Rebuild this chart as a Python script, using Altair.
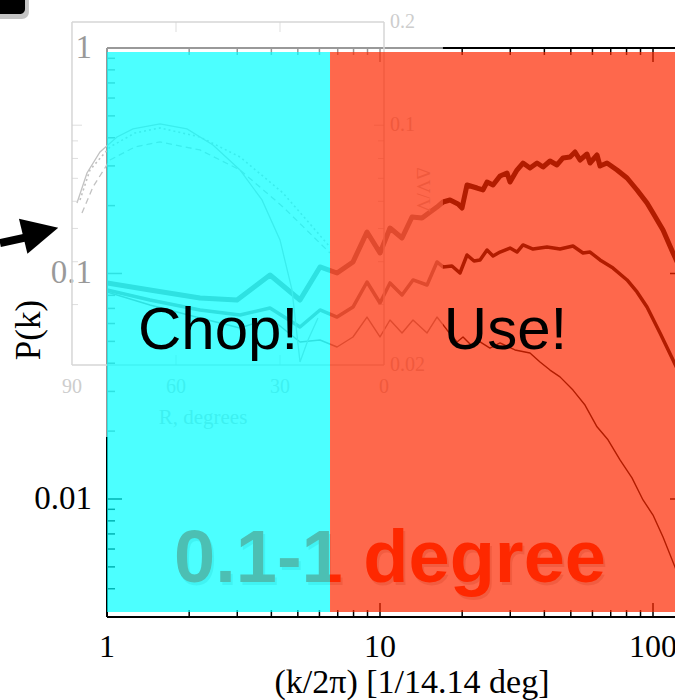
import altair as alt
import pandas as pd

# ---------------- main power spectra P(k) ----------------
k_thick = [1.000, 1.437, 2.191, 2.994, 3.955, 5.093, 6.029, 6.960, 7.962, 8.962,
           10.00, 10.88, 12.04, 13.10, 14.25, 16.17, 17.01, 18.05, 19.31, 19.97,
           20.83, 22.67, 23.84, 24.66, 25.94, 27.52, 29.19, 29.94, 31.75, 33.40,
           35.43, 37.60, 39.55, 41.95, 44.49, 46.81, 49.66, 51.81, 54.03, 57.32,
           58.79, 62.36, 63.96, 67.84, 73.81, 80.33, 87.38, 95.06, 100.0, 108.8,
           118.4, 125.6]
p_thick = [0.0908, 0.0845, 0.0778, 0.0763, 0.0985, 0.0763, 0.1069, 0.1005, 0.1125, 0.1528,
           0.1233, 0.1591, 0.1437, 0.1780, 0.1762, 0.1971, 0.2075, 0.2118, 0.2033, 0.1952,
           0.2469, 0.2394, 0.2346, 0.2544, 0.2469, 0.2707, 0.2791, 0.2544, 0.2877, 0.3090,
           0.2937, 0.3090, 0.2967, 0.3154, 0.3029, 0.3253, 0.3286, 0.3457, 0.3186, 0.3387,
           0.3090, 0.3353, 0.2997, 0.3090, 0.2877, 0.2652, 0.2346, 0.2054, 0.1854, 0.1559,
           0.1233, 0.1057]

k_mid = [1.000, 1.437, 2.191, 3.070, 3.955, 5.093, 6.029, 6.960, 7.962, 8.962,
         10.00, 10.88, 12.04, 13.21, 14.87, 16.17, 17.01, 18.35, 19.63, 20.83,
         22.10, 23.25, 24.66, 25.94, 27.52, 29.94, 31.75, 33.40, 36.35, 40.90,
         45.63, 50.92, 55.41, 58.79, 63.96, 71.38, 80.33, 87.38, 95.06, 106.1,
         118.4, 125.6]
p_mid = [0.0845, 0.0763, 0.0689, 0.0655, 0.0703, 0.0579, 0.0689, 0.0641, 0.0710, 0.0917,
         0.0740, 0.0908, 0.0803, 0.0936, 0.0889, 0.1125, 0.1069, 0.1080, 0.1005, 0.1208,
         0.1136, 0.1148, 0.1271, 0.1196, 0.1245, 0.1297, 0.1245, 0.1338, 0.1284, 0.1311,
         0.1284, 0.1324, 0.1233, 0.1245, 0.1148, 0.1057, 0.0936, 0.0828, 0.0710, 0.0545,
         0.0413, 0.0355]

k_thin = [1.000, 1.437, 2.191, 3.070, 3.955, 5.093, 6.029, 6.960, 7.962, 8.962,
          10.00, 10.88, 12.04, 13.21, 14.87, 16.17, 17.60, 19.15, 20.14, 21.73,
          23.25, 25.28, 27.52, 31.23, 35.43, 38.56, 41.95, 45.63, 50.92, 56.35,
          62.36, 68.42, 75.70, 83.76, 91.92, 100.0, 108.8, 120.4, 127.7]
p_thin = [0.0828, 0.0725, 0.0635, 0.0573, 0.0635, 0.0497, 0.0507, 0.0472, 0.0523, 0.0641,
          0.0523, 0.0622, 0.0545, 0.0622, 0.0545, 0.0641, 0.0562, 0.0497, 0.0523, 0.0477,
          0.0497, 0.0467, 0.0492, 0.0458, 0.0444, 0.0405, 0.0373, 0.0348, 0.0304, 0.0261,
          0.0209, 0.0183, 0.0149, 0.0124, 0.00990, 0.00849, 0.00678, 0.00499, 0.00415]

# axis ticks and tick labels
x_major = [1, 10, 100]
x_major_labels = ["1", "10", "100"]
x_minor = [2, 3, 4, 5, 6, 7, 8, 9, 20, 30, 40, 50, 60, 70, 80, 90]
y_major = [0.01, 0.1, 1]
y_major_labels = ["0.01", "0.1", "1"]
y_minor = [0.004, 0.005, 0.006, 0.007, 0.008, 0.009,
           0.02, 0.03, 0.04, 0.05, 0.06, 0.07, 0.08, 0.09,
           0.2, 0.3, 0.4, 0.5, 0.6, 0.7, 0.8, 0.9]
x_title = "(k/2π) [1/14.14 deg]"
y_title = "P(k)"

# shaded zones
zone_name = ["chop", "use"]
zone_k0 = [1.0, 6.56]
zone_k1 = [6.56, 120.38]
zone_p0 = [0.003154, 0.003154]
zone_p1 = [0.960, 0.960]

# annotations
note_text = ["Chop!", "Use!"]
note_k = [2.551, 28.83]
note_p = [0.04626, 0.04626]
band_text = ["0.1-1 degree"]
band_k = [10.88]
band_p = [0.004284]
arrow_k = [0.4055, 0.5312]
arrow_p = [0.1365, 0.1466]
arrow_head_k = [0.5717]
arrow_head_p = [0.1528]
corner_k = [0.3727, 0.5008]
corner_p = [1.808, 1.415]
corner_shadow_k = [0.3727, 0.5176]
corner_shadow_p = [1.808, 1.345]

# ---------------- faded inset (R in degrees vs. dV) ----------------
inset_R_solid = [88.56, 85.67, 81.92, 77.02, 72.40, 64.62, 56.83, 49.33, 41.54, 35.19,
                 30.00, 26.54, 24.23, 21.92, 19.04]
inset_V_solid = [0.05934, 0.07258, 0.08356, 0.09240, 0.09752, 0.10084, 0.09752, 0.08758,
                 0.07405, 0.06055, 0.04628, 0.03309, 0.02041, 0.02365, 0.02742]
inset_R_dot = [87.69, 84.81, 79.04, 71.83, 64.62, 53.08, 41.54, 29.13, 15.58]
inset_V_dot = [0.06055, 0.07405, 0.08642, 0.09493, 0.09818, 0.09240, 0.08079, 0.06346, 0.04416]
inset_R_dash = [87.12, 83.94, 79.04, 71.83, 64.62, 53.08, 41.54, 29.13, 15.58]
inset_V_dash = [0.05549, 0.06607, 0.07918, 0.08642, 0.08937, 0.08470, 0.07405, 0.05778, 0.04241]
inset_x_ticks = [90, 60, 30, 0]
inset_x_labels = ["90", "60", "30", "0"]
inset_y_ticks = [0.2, 0.1, 0.02]
inset_y_labels = ["0.2", "0.1", "0.02"]
inset_y_minor = [0.03, 0.04, 0.05, 0.06, 0.07, 0.08, 0.09]
inset_box_r1 = [90, 90, 0, 90]
inset_box_r2 = [90, 0, 0, 0]
inset_box_v1 = [0.02, 0.2, 0.02, 0.02]
inset_box_v2 = [0.2, 0.2, 0.2, 0.02]
inset_sheet_R = [96.9, -17.0]
inset_sheet_V = [0.01234, 0.2168]

# ---------------- scales ----------------
W, H = 568, 569
xs = alt.Scale(type="log", domain=[1.0, 120.38], nice=False)
ys = alt.Scale(type="log", domain=[0.002997, 1.0], nice=False)
ixs = alt.Scale(type="linear", domain=[-83.94, 79.90], reverse=True, nice=False, zero=False)
iys = alt.Scale(type="log", domain=[0.003683, 0.1679], nice=False)

SERIF = "Liberation Serif"
SANS = "Liberation Sans"
one = pd.DataFrame({"a": [0]})


def X(f, **kw):
    return alt.X(f, scale=xs, axis=None, **kw)


def Y(f, **kw):
    return alt.Y(f, scale=ys, axis=None, **kw)


# ---------------- main chart: frame, ticks, labels, spectra ----------------
frame = [
    alt.Chart(one).mark_rule(color="black", strokeWidth=2).encode(
        x=alt.value(0), y=alt.value(0), y2=alt.value(H)),
    alt.Chart(one).mark_rule(color="black", strokeWidth=2).encode(
        y=alt.value(0), x=alt.value(0), x2=alt.value(W)),
    alt.Chart(one).mark_rule(color="black", strokeWidth=2).encode(
        y=alt.value(H), x=alt.value(0), x2=alt.value(W)),
]
xmaj = pd.DataFrame({"v": x_major, "t": x_major_labels})
xmin = pd.DataFrame({"v": x_minor})
ymaj = pd.DataFrame({"v": y_major, "t": y_major_labels})
ymin = pd.DataFrame({"v": y_minor})
tick_style = dict(color="black", strokeWidth=1.5)
ticks = [
    alt.Chart(ymaj).mark_rule(**tick_style).encode(Y("v:Q"), x=alt.value(0), x2=alt.value(15)),
    alt.Chart(ymin).mark_rule(**tick_style).encode(Y("v:Q"), x=alt.value(0), x2=alt.value(8)),
    alt.Chart(ymaj).mark_rule(**tick_style).encode(Y("v:Q"), x=alt.value(W - 5), x2=alt.value(W)),
    alt.Chart(xmaj).mark_rule(**tick_style).encode(X("v:Q"), y=alt.value(H), y2=alt.value(H - 14)),
    alt.Chart(xmin).mark_rule(**tick_style).encode(X("v:Q"), y=alt.value(H), y2=alt.value(H - 7)),
    alt.Chart(xmaj).mark_rule(**tick_style).encode(X("v:Q"), y=alt.value(0), y2=alt.value(14)),
    alt.Chart(xmin).mark_rule(**tick_style).encode(X("v:Q"), y=alt.value(0), y2=alt.value(7)),
]
labels = [
    alt.Chart(ymaj).mark_text(font=SERIF, fontSize=33, color="black", align="right",
                              baseline="middle").encode(Y("v:Q"), x=alt.value(-15), text="t:N"),
    alt.Chart(xmaj).mark_text(font=SERIF, fontSize=32, color="black", align="center",
                              baseline="top").encode(X("v:Q"), y=alt.value(H + 15), text="t:N"),
    alt.Chart(pd.DataFrame({"t": [x_title]})).mark_text(
        font=SERIF, fontSize=34, color="black", align="center", baseline="alphabetic").encode(
        x=alt.value(305), y=alt.value(H + 76), text="t:N"),
    alt.Chart(pd.DataFrame({"t": [y_title]})).mark_text(
        font=SERIF, fontSize=35, color="black", align="center", baseline="alphabetic", angle=270).encode(
        x=alt.value(-67), y=alt.value(282), text="t:N"),
]

thick = alt.Chart(pd.DataFrame({"k": k_thick, "p": p_thick})).mark_line(
    color="black", strokeWidth=5, clip=True, strokeJoin="round").encode(X("k:Q"), Y("p:Q"))
mid = alt.Chart(pd.DataFrame({"k": k_mid, "p": p_mid})).mark_line(
    color="black", strokeWidth=3.5, clip=True, strokeJoin="round").encode(X("k:Q"), Y("p:Q"))
thin = alt.Chart(pd.DataFrame({"k": k_thin, "p": p_thin})).mark_line(
    color="black", strokeWidth=1.4, clip=True, strokeJoin="round").encode(X("k:Q"), Y("p:Q"))

layerA = alt.layer(*frame, *ticks, *labels, thick, mid, thin)

# ---------------- faded inset ----------------
def IX(f, **kw):
    return alt.X(f, scale=ixs, axis=None, **kw)


def IY(f, **kw):
    return alt.Y(f, scale=iys, axis=None, **kw)


sheet = alt.Chart(pd.DataFrame({"r0": [inset_sheet_R[0]], "r1": [inset_sheet_R[1]],
                                "v0": [inset_sheet_V[0]], "v1": [inset_sheet_V[1]]})).mark_rect(
    color="white", opacity=0.6).encode(IX("r0:Q"), x2="r1:Q", y=IY("v0:Q"), y2="v1:Q")
box = alt.Chart(pd.DataFrame({"r1": inset_box_r1, "r2": inset_box_r2,
                              "v1": inset_box_v1, "v2": inset_box_v2})).mark_rule(
    color="#d6d6d6", strokeWidth=1.5).encode(IX("r1:Q"), x2="r2:Q", y=IY("v1:Q"), y2="v2:Q")
iminor = pd.DataFrame({"v": inset_y_minor})
ilbl_y = pd.DataFrame({"v": inset_y_ticks, "t": inset_y_labels})
ilbl_x = pd.DataFrame({"r": inset_x_ticks, "t": inset_x_labels})
itk = "#d0d0d0"
inset_ticks = [
    alt.Chart(iminor).mark_tick(orient="horizontal", size=6, xOffset=3, color=itk, thickness=1).encode(
        IX("r:Q"), IY("v:Q")).transform_calculate(r="90"),
    alt.Chart(iminor).mark_tick(orient="horizontal", size=6, xOffset=-3, color=itk, thickness=1).encode(
        IX("r:Q"), IY("v:Q")).transform_calculate(r="0"),
    alt.Chart(pd.DataFrame({"v": [0.1]})).mark_tick(orient="horizontal", size=10, xOffset=5, color=itk, thickness=1).encode(
        IX("r:Q"), IY("v:Q")).transform_calculate(r="90"),
    alt.Chart(pd.DataFrame({"v": [0.1]})).mark_tick(orient="horizontal", size=10, xOffset=-5, color=itk, thickness=1).encode(
        IX("r:Q"), IY("v:Q")).transform_calculate(r="0"),
    alt.Chart(pd.DataFrame({"r": [60, 30]})).mark_tick(orient="vertical", size=10, yOffset=5, color=itk, thickness=1).encode(
        IX("r:Q"), IY("v:Q")).transform_calculate(v="0.2"),
    alt.Chart(pd.DataFrame({"r": [60, 30]})).mark_tick(orient="vertical", size=10, yOffset=-5, color=itk, thickness=1).encode(
        IX("r:Q"), IY("v:Q")).transform_calculate(v="0.02"),
]
inset_text_color = "#cdcdcd"
inset_labels = [
    alt.Chart(ilbl_x).mark_text(font=SERIF, fontSize=20, color=inset_text_color, dy=22,
                                baseline="middle").encode(
        IX("r:Q"), IY("v:Q"), text="t:N").transform_calculate(v="0.02"),
    alt.Chart(ilbl_y).mark_text(font=SERIF, fontSize=20, color=inset_text_color, dx=6,
                                align="left", baseline="middle").encode(
        IX("r:Q"), IY("v:Q"), text="t:N").transform_calculate(r="0"),
    alt.Chart(pd.DataFrame({"r": [52.2], "v": [0.0140], "t": ["R, degrees"]})).mark_text(
        font=SERIF, fontSize=21, color=inset_text_color, baseline="middle").encode(
        IX("r:Q"), IY("v:Q"), text="t:N"),
    alt.Chart(pd.DataFrame({"r": [-11.25], "v": [0.0648], "t": ["ΔV/V"]})).mark_text(
        font=SERIF, fontSize=19, color=inset_text_color, angle=90, baseline="middle").encode(
        IX("r:Q"), IY("v:Q"), text="t:N"),
]
icurve = "#c2c2c2"
inset_curves = [
    alt.Chart(pd.DataFrame({"r": inset_R_solid, "v": inset_V_solid})).mark_line(
        color=icurve, strokeWidth=1.3).encode(IX("r:Q"), IY("v:Q"), order=alt.Order("r:Q", sort="descending")),
    alt.Chart(pd.DataFrame({"r": inset_R_dot, "v": inset_V_dot})).mark_line(
        color=icurve, strokeWidth=1.6, strokeDash=[2, 3]).encode(IX("r:Q"), IY("v:Q"), order=alt.Order("r:Q", sort="descending")),
    alt.Chart(pd.DataFrame({"r": inset_R_dash, "v": inset_V_dash})).mark_line(
        color=icurve, strokeWidth=1.3, strokeDash=[6, 4]).encode(IX("r:Q"), IY("v:Q"), order=alt.Order("r:Q", sort="descending")),
]
layerI = alt.layer(sheet, box, *inset_curves, *inset_ticks, *inset_labels)

# ---------------- band text, zones, labels, arrow ----------------
band_df = pd.DataFrame({"k": band_k, "p": band_p, "t": band_text})
band_shadow = alt.Chart(band_df).mark_text(font=SANS, fontSize=74, fontWeight="bold",
                                           color="#000000", opacity=0.15, dx=2, dy=3,
                                           baseline="alphabetic").encode(X("k:Q"), Y("p:Q"), text="t:N")
band = alt.Chart(band_df).mark_text(font=SANS, fontSize=74, fontWeight="bold", color="#ff2a00",
                                    baseline="alphabetic").encode(X("k:Q"), Y("p:Q"), text="t:N")
zones = alt.Chart(pd.DataFrame({"z": zone_name, "k0": zone_k0, "k1": zone_k1,
                                "p0": zone_p0, "p1": zone_p1})).mark_rect(opacity=0.7).encode(
    X("k0:Q"), x2="k1:Q", y=Y("p0:Q"), y2="p1:Q",
    color=alt.Color("z:N", scale=alt.Scale(domain=zone_name, range=["#00ffff", "#fd2800"]), legend=None))
notes = alt.Chart(pd.DataFrame({"k": note_k, "p": note_p, "t": note_text})).mark_text(
    font=SANS, fontSize=60, color="black", baseline="alphabetic").encode(X("k:Q"), Y("p:Q"), text="t:N")
shaft = alt.Chart(pd.DataFrame({"k": arrow_k, "p": arrow_p})).mark_line(
    color="black", strokeWidth=8).encode(X("k:Q"), Y("p:Q"))
head = alt.Chart(pd.DataFrame({"k": arrow_head_k, "p": arrow_head_p})).mark_point(
    shape="M-1,-1L1,0L-1,1Z", filled=True, size=1300, angle=346.4, color="black", opacity=1).encode(
    X("k:Q"), Y("p:Q"))
corner_shadow = alt.Chart(pd.DataFrame({"k0": [corner_shadow_k[0]], "k1": [corner_shadow_k[1]],
                                        "p0": [corner_shadow_p[0]], "p1": [corner_shadow_p[1]]})).mark_rect(
    color="#555555", opacity=0.35, cornerRadius=7).encode(X("k0:Q"), x2="k1:Q", y=Y("p0:Q"), y2="p1:Q")
corner = alt.Chart(pd.DataFrame({"k0": [corner_k[0]], "k1": [corner_k[1]],
                                 "p0": [corner_p[0]], "p1": [corner_p[1]]})).mark_rect(
    color="black", cornerRadius=5).encode(X("k0:Q"), x2="k1:Q", y=Y("p0:Q"), y2="p1:Q")

layerB = alt.layer(band_shadow, band, zones, notes, shaft, head, corner_shadow, corner)

chart = alt.layer(layerA, layerI, layerB).resolve_scale(
    x="independent", y="independent").properties(
    width=W, height=H,
    padding={"left": 107, "top": 48, "right": 0, "bottom": 83},
    autosize=alt.AutoSizeParams(type="none"),
    background="white",
).configure_view(stroke=None)

chart.save("out.html", embed_options={"renderer": "svg", "actions": False})
